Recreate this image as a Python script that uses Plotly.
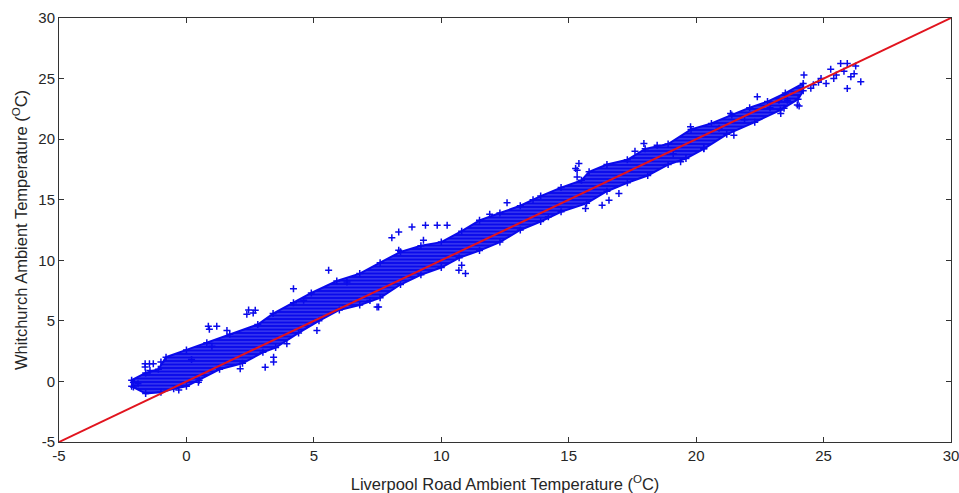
import plotly.graph_objects as go

# Dense core of the scatter cloud: upper edge (left->right) and lower edge (right->left)
band_upper_x = [-2.15, -1.6, -1.1, -0.8, 0.0, 0.8, 1.7, 2.8, 3.4, 4.2, 4.9, 5.9, 6.8, 7.6, 8.4, 9.2, 10.0,
                10.8, 11.5, 12.3, 13.1, 13.9, 14.7, 15.5, 15.8, 16.5, 17.3, 18.0, 18.9, 19.8, 20.6, 21.4,
                22.1, 22.8, 23.5, 24.2]
band_upper_y = [0.1, 0.7, 1.0, 2.0, 2.6, 3.2, 3.9, 4.7, 5.6, 6.5, 7.3, 8.3, 8.9, 9.8, 10.7, 11.2, 11.5,
                12.4, 13.3, 13.9, 14.5, 15.3, 16.0, 16.6, 17.3, 17.9, 18.3, 19.2, 19.6, 20.8, 21.3, 22.0,
                22.6, 23.1, 23.8, 24.6]
band_lower_x = [24.2, 24.0, 23.3, 22.3, 21.2, 20.3, 19.6, 18.9, 18.1, 17.3, 16.5, 15.7, 14.7, 13.9, 13.1,
                12.3, 11.5, 10.7, 10.0, 9.2, 8.4, 7.6, 6.8, 6.0, 5.2, 4.4, 3.5, 3.0, 2.2, 1.3, 0.5, 0.0,
                -0.5, -1.0, -1.6, -2.15]
band_lower_y = [24.0, 23.3, 22.4, 21.4, 20.4, 19.2, 18.4, 17.9, 17.0, 16.4, 15.7, 14.7, 14.0, 13.2, 12.5,
                11.5, 10.8, 10.2, 9.4, 8.8, 8.0, 6.9, 6.3, 5.9, 5.0, 4.0, 2.8, 2.4, 1.5, 1.0, 0.1, -0.4,
                -0.6, -0.9, -1.0, -0.4]

# Scattered individual readings around the core
pts_x = [-2.08, -2.08, -1.9, -1.62, -1.45, -1.3, -1.43, -1.62, -1.0, 0.47, 0.86, 1.19, 0.9, 1.59, 2.11,
         2.37, 2.62, 2.44, 2.7, 3.09, 3.42, 3.42, 3.94, 4.2, 5.12, 5.58, 7.48, 7.54, 7.2, 8.06, 8.33,
         8.85, 9.38, 9.84, 10.23, 9.3, 8.33, 10.69, 10.95, 10.8, 12.58, 15.4, 15.33, 15.27, 15.33,
         16.31, 16.58, 15.66, 16.97, 17.95, 18.47, 19.39, 20.3, 21.48, 23.32, 23.97, 23.58, 24.23,
         25.28, 25.67, 25.93, 26.26, 26.07, 25.93, 26.46, 22.4, 24.04, 23.25, 23.45, 19.78, 21.35,
         24.6, 24.9, 25.1, 25.5, 24.5, 24.8, 25.4, 25.8, 26.2, 22.9, 21.9, 20.9, 6.3, 4.6, 11.9,
         13.6, 14.2, 17.6, 19.1, 1.0, 0.2, -0.3]
pts_y = [-0.06, -0.47, -0.2, 1.46, 1.46, 1.46, 0.9, 1.2, 1.6, -0.06, 4.55, 4.55, 4.3, 4.21, 1.05,
         5.54, 5.65, 5.9, 5.87, 1.18, 1.6, 2.0, 3.12, 7.66, 4.21, 9.17, 6.14, 6.14, 6.69, 11.87, 12.34,
         12.75, 12.89, 12.89, 12.89, 11.65, 10.83, 9.17, 8.9, 9.6, 14.74, 17.99, 17.44, 17.58, 16.88,
         14.55, 14.96, 14.27, 15.51, 19.64, 19.5, 18.13, 19.23, 20.33, 22.12, 22.81, 23.22, 25.29,
         25.76, 26.25, 26.25, 26.03, 25.15, 24.19, 24.74, 23.5, 22.73, 23.22, 22.54, 21.02, 22.12,
         24.5, 25.0, 24.6, 25.3, 24.2, 24.7, 25.0, 25.6, 25.4, 22.6, 21.6, 20.9, 8.2, 6.7, 13.8,
         15.0, 13.6, 19.0, 18.8, 2.9, 1.8, -0.7]

line_x = [-5, 30]
line_y = [-5, 30]

x_ticks = [-5, 0, 5, 10, 15, 20, 25, 30]
y_ticks = [-5, 0, 5, 10, 15, 20, 25, 30]

blue = "rgb(10,10,235)"
font_family = "Liberation Sans, Arial, sans-serif"
fig = go.Figure()

fig.add_trace(go.Scatter(
    x=band_upper_x + band_lower_x, y=band_upper_y + band_lower_y,
    fill="toself", mode="lines",
    fillpattern=dict(shape="-", bgcolor=blue, fgcolor="rgba(255,255,255,0.85)", size=3.5, solidity=0.2),
    line=dict(color=blue, width=2), hoverinfo="skip", showlegend=False))

fig.add_trace(go.Scatter(
    x=band_upper_x + band_lower_x + pts_x, y=band_upper_y + band_lower_y + pts_y,
    mode="markers",
    marker=dict(symbol="cross-thin", size=5, line=dict(color=blue, width=1.5)),
    showlegend=False))

fig.add_trace(go.Scatter(
    x=line_x, y=line_y, mode="lines",
    line=dict(color="rgb(225,20,30)", width=2), showlegend=False))

axis_common = dict(
    showgrid=False, zeroline=False, showline=True, linecolor="#333333", linewidth=1,
    mirror="ticks", ticks="inside", ticklen=5, tickcolor="#333333",
    tickfont=dict(family=font_family, size=15, color="#262626"),
    ticklabeloverflow="allow",
)

fig.update_xaxes(range=[-5, 30], tickvals=x_ticks, ticktext=[str(v) for v in x_ticks],
                 title=dict(text="Liverpool Road Ambient Temperature (<sup>O</sup>C)",
                            font=dict(family=font_family, size=16.5, color="#262626"),
                            standoff=15),
                 **axis_common)
fig.update_yaxes(range=[-5, 30], tickvals=y_ticks, ticktext=[str(v) for v in y_ticks],
                 title=dict(text="Whitchurch Ambient Temperature (<sup>O</sup>C)",
                            font=dict(family=font_family, size=16.5, color="#262626"),
                            standoff=6),
                 **axis_common)

fig.update_layout(
    width=959, height=493,
    margin=dict(l=59, r=8, t=18, b=51, autoexpand=False),
    paper_bgcolor="white", plot_bgcolor="white",
)

fig.write_html("out.html", config={"displayModeBar": False},
               post_script="document.body.style.margin='0';document.body.style.overflow='hidden';")
